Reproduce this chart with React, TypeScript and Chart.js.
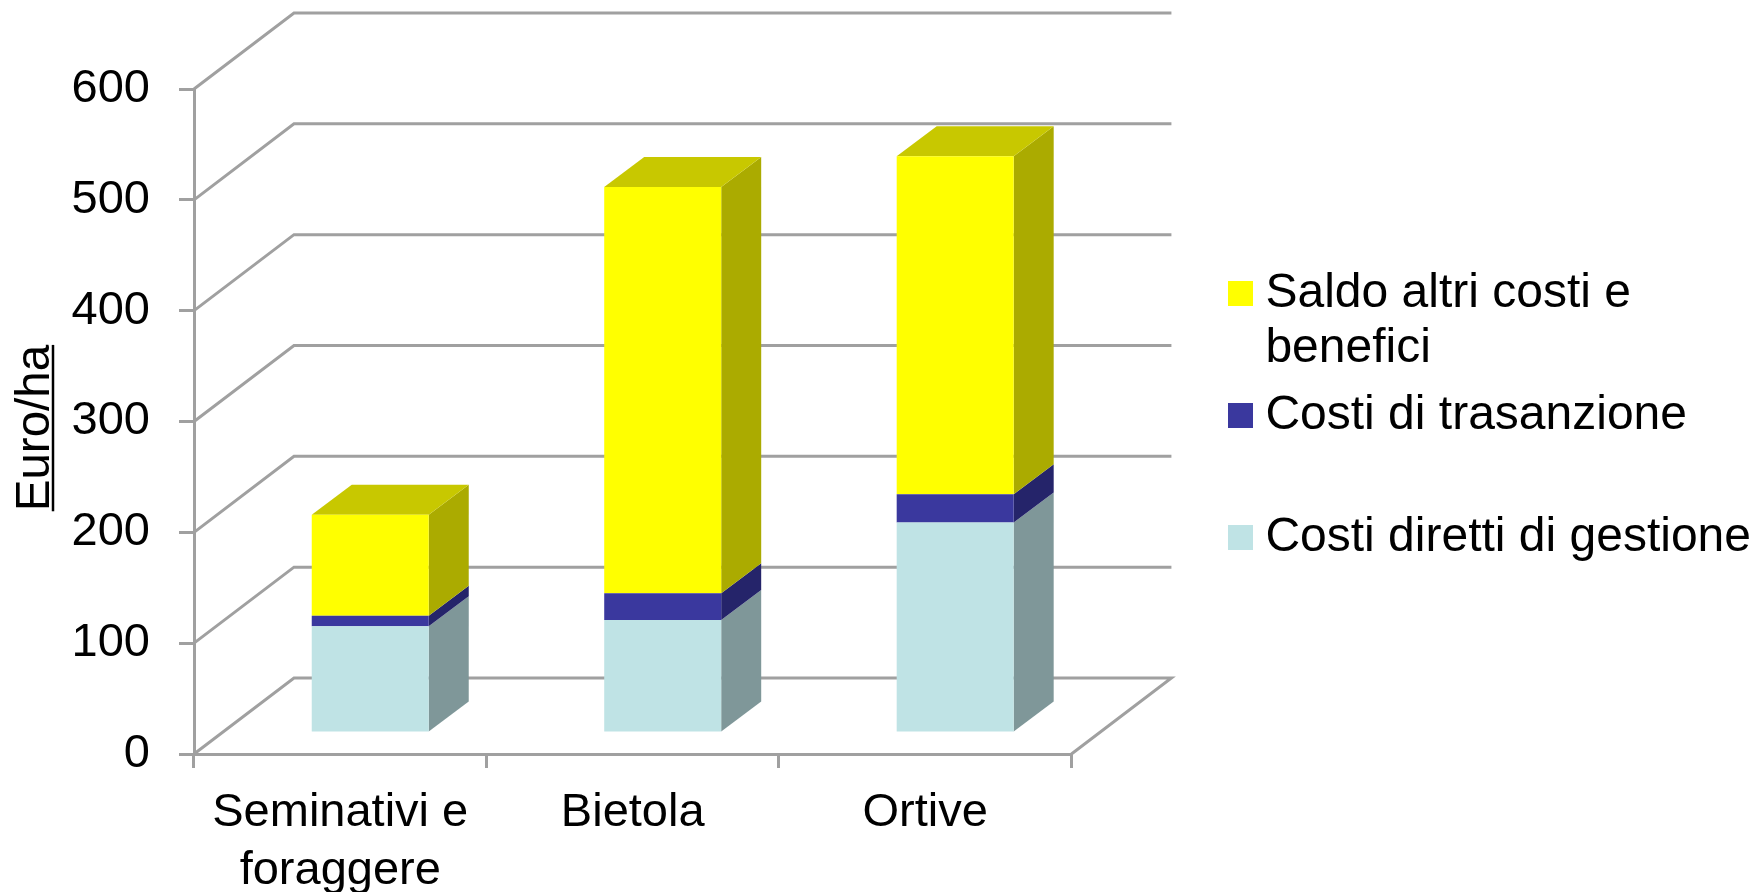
import React, { useEffect, useRef } from "react";
import { Chart, registerables } from "chart.js";

Chart.register(...registerables);

const categories = [["Seminativi e", "foraggere"], "Bietola", "Ortive"];
const costiDiretti = [96.4, 101.9, 189.9];
const costiTransazione = [9.3, 24.2, 25.5];
const saldoAltri = [91.3, 366.5, 305];
const seriesNames = ["Costi diretti di gestione", "Costi di trasanzione", "Saldo altri costi e benefici"];
const legendLines = [["Costi diretti di gestione", ""], ["Costi di trasanzione", ""], ["Saldo altri costi e", "benefici"]];
const yTicks = [0, 100, 200, 300, 400, 500, 600];

const FRONT = ["#BFE3E5", "#3A389E", "#FFFF00"];
const SIDE = ["#7F9799", "#25246A", "#ABAB00"];
const TOP = "#C8C800";
const LINE = "#A0A0A0";
const FONT = "'Liberation Sans', Arial, sans-serif";

const WALL_DX = 100;
const WALL_DY = -76;
const BAR_DX = 30;
const BAR_DY = -21;
const DEPTH_DX = 40;
const DEPTH_DY = -30;

function face(ctx: any, pts: number[][], color: string) {
  ctx.fillStyle = color;
  ctx.beginPath();
  pts.forEach((p, i) => (i ? ctx.lineTo(p[0], p[1]) : ctx.moveTo(p[0], p[1])));
  ctx.closePath();
  ctx.fill();
}

const scene3d = {
  id: "scene3d",
  afterLayout(chart: any) {
    const lg = chart.legend;
    lg.top -= 44;
    lg.bottom -= 44;
    lg.left += 5;
    lg.right += 5;
  },
  beforeDatasetsDraw(chart: any) {
    const { ctx, chartArea, scales } = chart;
    const { left, right } = chartArea;
    ctx.save();
    ctx.strokeStyle = LINE;
    ctx.lineWidth = 3;
    yTicks.forEach((v) => {
      const y = scales.y.getPixelForValue(v);
      ctx.beginPath();
      ctx.moveTo(left, y);
      ctx.lineTo(left + WALL_DX, y + WALL_DY);
      ctx.lineTo(right + WALL_DX, y + WALL_DY);
      if (v === 0) ctx.lineTo(right, y);
      ctx.stroke();
    });
    ctx.restore();

    ctx.save();
    ctx.translate(BAR_DX, BAR_DY);
    chart.data.datasets.forEach((_: any, d: number) => {
      const meta = chart.getDatasetMeta(d);
      meta.data.forEach((bar: any) => {
        const r = bar.x + bar.width / 2;
        const l = bar.x - bar.width / 2;
        face(ctx, [[r, bar.base], [r + DEPTH_DX, bar.base + DEPTH_DY], [r + DEPTH_DX, bar.y + DEPTH_DY], [r, bar.y]], SIDE[d]);
        if (d === chart.data.datasets.length - 1) {
          face(ctx, [[l, bar.y], [l + DEPTH_DX, bar.y + DEPTH_DY], [r + DEPTH_DX, bar.y + DEPTH_DY], [r, bar.y]], TOP);
        }
      });
    });
  },
  afterDatasetsDraw(chart: any) {
    chart.ctx.restore();
  },
  afterDraw(chart: any) {
    const { ctx, scales } = chart;
    const s = scales.y;
    const t = s.options.title;
    ctx.save();
    ctx.font = `${t.font.size}px ${FONT}`;
    const full = ctx.measureText(t.text).width;
    const w = ctx.measureText(t.text.trim()).width;
    const cy = (s.top + s.bottom) / 2 + (full - w) / 2;
    ctx.strokeStyle = "#000";
    ctx.lineWidth = 2.5;
    ctx.beginPath();
    ctx.moveTo(53, cy - w / 2);
    ctx.lineTo(53, cy + w / 2);
    ctx.stroke();
    ctx.restore();
  },
};

function swatch(color: string) {
  const c = document.createElement("canvas");
  c.width = 25;
  c.height = 25;
  const g = c.getContext("2d") as CanvasRenderingContext2D;
  g.fillStyle = color;
  g.fillRect(0, 0, 25, 25);
  return c;
}

export default function App() {
  const ref = useRef<HTMLCanvasElement>(null);
  useEffect(() => {
    document.body.style.margin = "0";
    document.body.style.background = "#fff";
    const chart = new Chart(ref.current as HTMLCanvasElement, {
      type: "bar",
      data: {
        labels: categories as any,
        datasets: [costiDiretti, costiTransazione, saldoAltri].map((values, i) => ({
          label: seriesNames[i],
          data: values,
          backgroundColor: FRONT[i],
          borderWidth: 0,
          barPercentage: 0.4,
          categoryPercentage: 1,
          clip: false as any,
        })),
      },
      options: {
        responsive: false,
        animation: false,
        layout: { padding: { top: 89, left: 0, right: 0, bottom: 0 } },
        plugins: {
          tooltip: { enabled: false },
          title: { display: false },
          legend: {
            display: true,
            position: "right",
            align: "center",
            reverse: true,
            maxWidth: 600,
            labels: {
              color: "#000",
              font: { family: FONT, size: 48, lineHeight: 1.146 },
              boxWidth: 2,
              boxHeight: 25,
              padding: 12,
              usePointStyle: true,
              generateLabels(chart: any) {
                return chart.data.datasets.map((ds: any, i: number) => ({
                  text: legendLines[i],
                  fillStyle: FRONT[i],
                  strokeStyle: FRONT[i],
                  lineWidth: 0,
                  pointStyle: swatch(FRONT[i]),
                  datasetIndex: i,
                  hidden: false,
                }));
              },
            },
          } as any,
        },
        scales: {
          x: {
            stacked: true,
            offset: true,
            afterFit(s: any) {
              s.height = 892 - 754;
            },
            grid: { drawOnChartArea: false, offset: true, color: LINE, lineWidth: 3, tickLength: 14 },
            border: { color: LINE, width: 3 },
            ticks: {
              color: "#000",
              maxRotation: 0,
              autoSkip: false,
              padding: 16,
              font: { family: FONT, size: 47, lineHeight: 1.234 },
            },
          },
          y: {
            stacked: true,
            min: 0,
            max: 600,
            afterFit(s: any) {
              s.width = 194;
            },
            grid: { drawOnChartArea: false, color: LINE, lineWidth: 3, tickLength: 15 },
            border: { color: LINE, width: 3 },
            ticks: {
              color: "#000",
              stepSize: 100,
              padding: 29,
              font: { family: FONT, size: 47 },
            },
            title: {
              display: true,
              text: "Euro/ha ",
              color: "#000",
              padding: { top: 7, bottom: 0 },
              font: { family: FONT, size: 47.5 },
            },
          },
          gap: {
            type: "linear",
            position: "right",
            display: true,
            afterFit(s: any) {
              s.width = 151;
            },
            grid: { display: false },
            border: { display: false },
            ticks: { display: false },
          },
        } as any,
      },
      plugins: [scene3d],
    });
    return () => chart.destroy();
  }, []);
  return <canvas ref={ref} width={1756} height={892} style={{ display: "block" }} />;
}
